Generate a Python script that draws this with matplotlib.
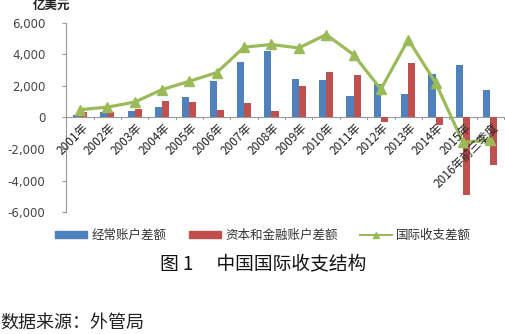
import matplotlib
matplotlib.use("Agg")
import matplotlib.pyplot as plt
import numpy as np
from matplotlib.lines import Line2D
from matplotlib.patches import Patch

plt.rcParams['font.family'] = ['Noto Sans CJK SC', 'DejaVu Sans']

categories = ["2001年", "2002年", "2003年", "2004年", "2005年", "2006年", "2007年", "2008年",
              "2009年", "2010年", "2011年", "2012年", "2013年", "2014年", "2015年", "2016年前三季度"]
current_account = [170, 350, 430, 680, 1300, 2300, 3510, 4210, 2410, 2360, 1340, 2140, 1460, 2770, 3300, 1710]
capital_financial = [330, 320, 530, 1050, 950, 450, 920, 380, 1970, 2880, 2670, -300, 3470, -510, -4890, -3000]
bop_balance = [490, 650, 970, 1760, 2290, 2840, 4450, 4620, 4400, 5250, 3980, 1780, 4930, 2200, -1580, -1430]
yticks = [-6000, -4000, -2000, 0, 2000, 4000, 6000]
ytick_labels = ["-6,000", "-4,000", "-2,000", "0", "2,000", "4,000", "6,000"]
series_names = ["经常账户差额", "资本和金融账户差额", "国际收支差额"]

blue = "#4F81BD"
red = "#C0504D"
green = "#9BBB59"

fig = plt.figure(figsize=(5.06, 3.34), dpi=100)
ax = fig.add_axes([0.131, 0.365, 0.865, 0.567])

x = np.arange(len(categories))
w = 0.26
ax.bar(x - w / 2, current_account, w, color=blue, zorder=2)
ax.bar(x + w / 2, capital_financial, w, color=red, zorder=2)
ax.plot(x, bop_balance, color=green, lw=2.3, marker="^", ms=7, zorder=3)

ax.set_xlim(-0.5, len(categories) - 0.5)
ax.set_ylim(-6000, 6000)
ax.set_yticks(yticks)
ax.set_yticklabels(ytick_labels, fontsize=8.5, family=['DejaVu Sans'], color="#444444")
ax.tick_params(axis='y', length=3, color="#999999", pad=12)

for s in ['top', 'right', 'bottom']:
    ax.spines[s].set_visible(False)
ax.spines['left'].set_color("#999999")
ax.axhline(0, color="#999999", lw=0.8, zorder=1)

# category boundary ticks on zero line
ax.set_xticks([])
for b in np.arange(-0.5, len(categories) + 0.5, 1.0):
    ax.plot([b, b], [0, -120], color="#999999", lw=0.7, zorder=1, clip_on=False)

for xi, lab in zip(x, categories):
    ax.text(xi + 0.05, -250, lab, rotation=45, ha='right', va='top', rotation_mode='anchor',
            fontsize=8.5, color="#222222")

fig.text(0.065, 0.985, "亿美元", fontsize=9, fontweight='bold', ha='left', va='center', color="#222222")

handles = [Patch(color=blue), Patch(color=red),
           Line2D([0], [0], color=green, lw=1.5, marker="^", ms=5)]
fig.legend(handles, series_names, loc='center', bbox_to_anchor=(0.52, 0.295), ncol=3, frameon=False,
           fontsize=9, handlelength=2.6, handleheight=0.4, columnspacing=1.8, handletextpad=0.3,
           labelcolor="#333333")

fig.text(0.52, 0.21, "图 1　 中国国际收支结构", fontsize=13.5, ha='center', va='center', color="#111111")
fig.text(0.0, 0.035, "数据来源：外管局", fontsize=13, ha='left', va='center', color="#222222")

fig.savefig("out.png", dpi=100)
